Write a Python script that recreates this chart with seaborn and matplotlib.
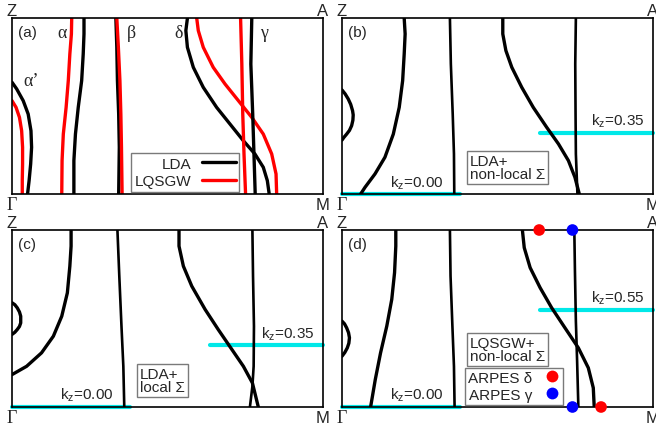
import matplotlib
matplotlib.use("Agg")
import matplotlib.pyplot as plt
import seaborn as sns
from matplotlib.lines import Line2D

# ---------------- data (kx along Gamma-M, kz along Gamma-Z, both normalised) ----------------
# panel (a): LDA (black) vs LQSGW (red)
a_alphap_lda_k = [0.000, 0.015, 0.036, 0.052, 0.061, 0.063, 0.060, 0.055, 0.050]
a_alphap_lda_z = [0.636, 0.598, 0.531, 0.455, 0.360, 0.266, 0.171, 0.076, 0.000]
a_alphap_qp_k = [0.000, 0.013, 0.024, 0.031, 0.034, 0.034, 0.033, 0.033]
a_alphap_qp_z = [0.531, 0.493, 0.436, 0.360, 0.266, 0.171, 0.076, 0.000]
a_alpha_lda_k = [0.2315, 0.2315, 0.229, 0.224, 0.213, 0.204, 0.199, 0.199]
a_alpha_qp_k = [0.192, 0.191, 0.186, 0.181, 0.174, 0.165, 0.161, 0.160]
a_alpha_z = [1.000, 0.911, 0.797, 0.645, 0.493, 0.341, 0.190, 0.000]
a_beta_lda_k = [0.334, 0.337, 0.339, 0.343, 0.345, 0.343]
a_beta_qp_k = [0.337, 0.342, 0.347, 0.350, 0.352, 0.354]
a_beta_z = [1.000, 0.835, 0.645, 0.455, 0.266, 0.000]
a_delta_lda_k = [0.564, 0.559, 0.564, 0.583, 0.615, 0.658, 0.701, 0.744, 0.781, 0.808, 0.821, 0.827]
a_delta_lda_z = [1.000, 0.930, 0.835, 0.721, 0.607, 0.493, 0.398, 0.303, 0.228, 0.152, 0.076, 0.000]
a_delta_qp_k = [0.594, 0.599, 0.615, 0.647, 0.685, 0.728, 0.771, 0.808, 0.835, 0.849, 0.851]
a_delta_qp_z = [1.000, 0.930, 0.835, 0.721, 0.626, 0.531, 0.436, 0.341, 0.228, 0.114, 0.000]
a_gamma_lda_k = [0.771, 0.768, 0.774, 0.778, 0.782]
a_gamma_qp_k = [0.735, 0.739, 0.742, 0.746, 0.751]
a_gamma_z = [1.000, 0.740, 0.455, 0.228, 0.000]

# panel (b): LDA + non-local Sigma
b_arc_k = [0.000, 0.010, 0.020, 0.028, 0.034, 0.036, 0.035, 0.031, 0.024, 0.015, 0.006, 0.000]
b_arc_z = [0.592, 0.570, 0.541, 0.510, 0.474, 0.450, 0.420, 0.389, 0.362, 0.341, 0.322, 0.307]
b_alpha_k = [0.200, 0.203, 0.200, 0.195, 0.184, 0.165, 0.138, 0.106, 0.074, 0.060]
b_alpha_z = [1.000, 0.911, 0.797, 0.645, 0.493, 0.341, 0.209, 0.114, 0.038, 0.000]
b_beta_k = [0.347, 0.350, 0.356, 0.360, 0.361]
b_beta_z = [1.000, 0.740, 0.455, 0.228, 0.000]
b_delta_k = [0.517, 0.517, 0.527, 0.546, 0.578, 0.615, 0.658, 0.696, 0.728, 0.749, 0.763]
b_delta_z = [1.000, 0.911, 0.816, 0.721, 0.607, 0.493, 0.380, 0.285, 0.190, 0.095, 0.000]
b_gamma_k = [0.752, 0.750, 0.751, 0.752, 0.757]
b_gamma_z = [1.000, 0.740, 0.455, 0.228, 0.000]

# panel (c): LDA + local Sigma
c_arc_k = [0.000, 0.009, 0.017, 0.024, 0.028, 0.028, 0.024, 0.017, 0.009, 0.000]
c_arc_z = [0.589, 0.578, 0.560, 0.537, 0.513, 0.475, 0.455, 0.438, 0.422, 0.410]
c_alpha_k = [0.190, 0.190, 0.186, 0.178, 0.160, 0.133, 0.095, 0.047, 0.000]
c_alpha_z = [1.000, 0.909, 0.796, 0.645, 0.513, 0.400, 0.306, 0.230, 0.183]
c_beta_k = [0.339, 0.345, 0.352, 0.358, 0.361]
c_beta_z = [1.000, 0.740, 0.457, 0.230, 0.000]
c_delta_k = [0.537, 0.537, 0.551, 0.578, 0.621, 0.663, 0.707, 0.744, 0.773, 0.792]
c_delta_z = [1.000, 0.909, 0.796, 0.683, 0.551, 0.438, 0.325, 0.230, 0.136, 0.000]
c_gamma_k = [0.773, 0.775, 0.778, 0.777, 0.773, 0.765]
c_gamma_z = [1.000, 0.740, 0.457, 0.230, 0.117, 0.000]

# panel (d): LQSGW + non-local Sigma, with ARPES points
d_arc_k = [0.000, 0.008, 0.015, 0.021, 0.024, 0.022, 0.017, 0.009, 0.000]
d_arc_z = [0.485, 0.470, 0.447, 0.420, 0.391, 0.360, 0.334, 0.308, 0.287]
d_alpha_k = [0.173, 0.173, 0.169, 0.160, 0.144, 0.124, 0.107, 0.092]
d_alpha_z = [1.000, 0.909, 0.759, 0.608, 0.457, 0.306, 0.155, 0.000]
d_beta_k = [0.347, 0.349, 0.355, 0.360, 0.362]
d_beta_z = [1.000, 0.740, 0.457, 0.230, 0.000]
d_delta_k = [0.580, 0.586, 0.605, 0.637, 0.674, 0.717, 0.760, 0.792, 0.808, 0.811]
d_delta_z = [1.000, 0.900, 0.787, 0.674, 0.561, 0.447, 0.334, 0.221, 0.108, 0.000]
d_gamma_k = [0.747, 0.749, 0.752, 0.756, 0.760]
d_gamma_z = [1.000, 0.768, 0.485, 0.259, 0.000]
arpes_delta_k = [0.634, 0.833]
arpes_delta_z = [1.0, 0.0]
arpes_gamma_k = [0.741, 0.741]
arpes_gamma_z = [1.0, 0.0]

# cyan kz cuts: (kz value, kx start, kx end)
b_cuts = [(0.00, 0.000, 0.380), (0.35, 0.638, 1.000)]
c_cuts = [(0.00, 0.000, 0.381), (0.35, 0.636, 1.000)]
d_cuts = [(0.00, 0.000, 0.380), (0.55, 0.638, 1.000)]
cut_labels_b = ["0.00", "0.35"]
cut_labels_c = ["0.00", "0.35"]
cut_labels_d = ["0.00", "0.55"]

panel_letters = ["(a)", "(b)", "(c)", "(d)"]
corner_labels = ["Z", "A", "\u0393", "M"]

# ---------------- style ----------------
sns.set_style("white")
plt.rcParams["font.family"] = ["Liberation Sans", "DejaVu Sans"]
plt.rcParams["mathtext.fontset"] = "custom"
plt.rcParams["mathtext.rm"] = "Liberation Sans"

BLACK = "#000000"
RED = "#ff0000"
CYAN = "#00e8e8"
BOXEC = "#7a7a7a"
FS = 11
SERIF = ["Liberation Serif", "DejaVu Serif"]
LW = 2.4

fig = plt.figure(figsize=(6.56, 4.31), dpi=100)
W, H = 656.0, 431.0
def rect(l, t, r, b):
    return [l / W, 1 - b / H, (r - l) / W, (b - t) / H]

ax_a = fig.add_axes(rect(12, 19.3, 323, 195))
ax_b = fig.add_axes(rect(342, 19.3, 653, 195))
ax_c = fig.add_axes(rect(12, 231, 323, 408))
ax_d = fig.add_axes(rect(342, 231, 653, 408))
axes = [ax_a, ax_b, ax_c, ax_d]

def curve(ax, k, z, color=BLACK, lw=LW):
    sns.lineplot(x=k, y=z, sort=False, estimator=None, color=color,
                 linewidth=lw, ax=ax, legend=False)

def cuts(ax, cutlist, labels, label_pos):
    for (kz, k0, k1), lab, (lx, ly) in zip(cutlist, labels, label_pos):
        sns.lineplot(x=[k0, k1], y=[kz, kz], sort=False, estimator=None,
                     color=CYAN, linewidth=3.0, ax=ax, legend=False,
                     clip_on=False, zorder=1.5)
        ax.text(lx, ly, r"k$_{\mathregular{z}}$=" + lab, ha="right", va="center",
                fontsize=FS, transform=ax.transAxes)

def note(ax, x, y, s):
    ax.text(x, y, s, ha="left", va="center", fontsize=FS, linespacing=0.85,
            transform=ax.transAxes, zorder=6,
            bbox=dict(boxstyle="square,pad=0.2", fc="white", ec=BOXEC, lw=1.0))

# panel (a)
curve(ax_a, a_alphap_lda_k, a_alphap_lda_z, BLACK)
curve(ax_a, a_alphap_qp_k, a_alphap_qp_z, RED)
curve(ax_a, a_alpha_lda_k, a_alpha_z, BLACK)
curve(ax_a, a_alpha_qp_k, a_alpha_z, RED)
curve(ax_a, a_beta_lda_k, a_beta_z, BLACK)
curve(ax_a, a_beta_qp_k, a_beta_z, RED)
curve(ax_a, a_delta_lda_k, a_delta_lda_z, BLACK)
curve(ax_a, a_delta_qp_k, a_delta_qp_z, RED)
curve(ax_a, a_gamma_lda_k, a_gamma_z, BLACK)
curve(ax_a, a_gamma_qp_k, a_gamma_z, RED)
h_lda = Line2D([], [], color=BLACK, lw=LW)
h_qp = Line2D([], [], color=RED, lw=LW)
leg = ax_a.legend([h_lda, h_qp], ["LDA", "LQSGW"], loc="lower left",
                  bbox_to_anchor=(0.382, 0.013), borderaxespad=0, markerfirst=False,
                  fancybox=False, framealpha=1, edgecolor=BOXEC, fontsize=FS,
                  handlelength=2.2, handletextpad=0.7, borderpad=0.25,
                  labelspacing=0.2)
leg.get_frame().set_linewidth(1.0)
for s, x, y in [("\u03b1", 0.16, 0.92), ("\u03b2", 0.383, 0.92),
                ("\u03b4", 0.537, 0.92), ("\u03b3", 0.81, 0.92),
                ("\u03b1\u2019", 0.062, 0.645)]:
    ax_a.text(x, y, s, ha="center", va="center", fontsize=13, family=SERIF,
              transform=ax_a.transAxes)

# panel (b)
curve(ax_b, b_arc_k, b_arc_z)
curve(ax_b, b_alpha_k, b_alpha_z)
curve(ax_b, b_beta_k, b_beta_z, lw=1.9)
curve(ax_b, b_delta_k, b_delta_z)
curve(ax_b, b_gamma_k, b_gamma_z, lw=1.9)
cuts(ax_b, b_cuts, cut_labels_b, [(0.326, 0.068), (0.972, 0.418)])
note(ax_b, 0.412, 0.150, "LDA+\nnon-local \u03a3")

# panel (c)
curve(ax_c, c_arc_k, c_arc_z)
curve(ax_c, c_alpha_k, c_alpha_z)
curve(ax_c, c_beta_k, c_beta_z, lw=1.9)
curve(ax_c, c_delta_k, c_delta_z)
curve(ax_c, c_gamma_k, c_gamma_z, lw=1.9)
cuts(ax_c, c_cuts, cut_labels_c, [(0.326, 0.070), (0.974, 0.418)])
note(ax_c, 0.411, 0.150, "LDA+\nlocal \u03a3")

# panel (d)
curve(ax_d, d_arc_k, d_arc_z)
curve(ax_d, d_alpha_k, d_alpha_z)
curve(ax_d, d_beta_k, d_beta_z, lw=1.9)
curve(ax_d, d_delta_k, d_delta_z)
curve(ax_d, d_gamma_k, d_gamma_z, lw=1.9)
cuts(ax_d, d_cuts, cut_labels_d, [(0.326, 0.070), (0.973, 0.620)])
note(ax_d, 0.412, 0.325, "LQSGW+\nnon-local \u03a3")
sns.scatterplot(x=arpes_delta_k, y=arpes_delta_z, color=RED, s=70, edgecolor="none",
                ax=ax_d, clip_on=False, zorder=7, legend=False)
sns.scatterplot(x=arpes_gamma_k, y=arpes_gamma_z, color="#0000ff", s=70, edgecolor="none",
                ax=ax_d, clip_on=False, zorder=7, legend=False)
h_d = Line2D([], [], ls="none", marker="o", ms=8.5, color=RED, mec="none")
h_g = Line2D([], [], ls="none", marker="o", ms=8.5, color="#0000ff", mec="none")
leg2 = ax_d.legend([h_d, h_g], ["ARPES \u03b4", "ARPES \u03b3"], loc="lower left",
                   bbox_to_anchor=(0.395, 0.013), borderaxespad=0, markerfirst=False,
                   fancybox=False, framealpha=1, edgecolor=BOXEC, fontsize=FS,
                   handlelength=1.0, handletextpad=0.8, borderpad=0.2,
                   labelspacing=0.2)
leg2.get_frame().set_linewidth(1.0)
leg2.set_zorder(8)

# common frame/labels
for ax, letter in zip(axes, panel_letters):
    ax.set_xlim(0, 1)
    ax.set_ylim(0, 1)
    ax.set_xticks([])
    ax.set_yticks([])
    ax.set_xlabel("")
    ax.set_ylabel("")
    for sp in ax.spines.values():
        sp.set_visible(True)
        sp.set_color("black")
        sp.set_linewidth(1.2)
        sp.set_zorder(3)
    ax.text(0.02, 0.92, letter, ha="left", va="center", fontsize=FS,
            transform=ax.transAxes)
    ax.text(0.0, 1.045, corner_labels[0], ha="center", va="center", fontsize=12,
            transform=ax.transAxes, clip_on=False)
    ax.text(1.0, 1.045, corner_labels[1], ha="center", va="center", fontsize=12,
            transform=ax.transAxes, clip_on=False)
    ax.text(0.0, -0.06, corner_labels[2], ha="center", va="center", fontsize=13,
            family=SERIF, transform=ax.transAxes, clip_on=False)
    ax.text(1.0, -0.06, corner_labels[3], ha="center", va="center", fontsize=12,
            transform=ax.transAxes, clip_on=False)

fig.savefig("out.png", dpi=100)
